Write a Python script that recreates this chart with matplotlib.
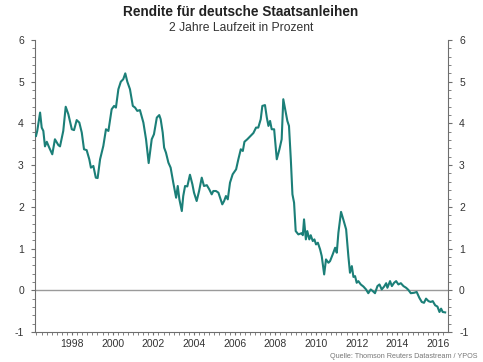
import matplotlib
matplotlib.use("Agg")
import matplotlib.pyplot as plt
from matplotlib.ticker import MultipleLocator, FixedLocator

# 2-year German government bond yield (decimal year, percent)
years = [
    1996.23, 1996.29, 1996.43, 1996.51, 1996.59, 1996.67, 1996.76, 1996.88,
    1997.03, 1997.16, 1997.33, 1997.41, 1997.57, 1997.69, 1997.82, 1997.99,
    1998.10, 1998.23, 1998.36, 1998.48, 1998.59, 1998.72, 1998.85, 1998.93,
    1999.05, 1999.17, 1999.26, 1999.38, 1999.54, 1999.67, 1999.79, 1999.95,
    2000.07, 2000.16, 2000.28, 2000.40, 2000.52, 2000.62, 2000.72, 2000.85,
    2000.99, 2001.10, 2001.21, 2001.34, 2001.51, 2001.64, 2001.77, 2001.92,
    2002.03, 2002.17, 2002.29, 2002.36, 2002.46, 2002.53, 2002.62, 2002.74,
    2002.85, 2002.98, 2003.12, 2003.20, 2003.28, 2003.40, 2003.47, 2003.56,
    2003.67, 2003.80, 2003.92, 2004.00, 2004.13, 2004.25, 2004.38, 2004.49,
    2004.63, 2004.75, 2004.87, 2004.95, 2005.08, 2005.20, 2005.28, 2005.39,
    2005.48, 2005.57, 2005.66, 2005.77, 2005.90, 2006.07, 2006.18, 2006.30,
    2006.40, 2006.48, 2006.62, 2006.76, 2006.92, 2007.05, 2007.16, 2007.28,
    2007.36, 2007.49, 2007.58, 2007.66, 2007.74, 2007.82, 2007.94, 2008.07,
    2008.20, 2008.31, 2008.39, 2008.48, 2008.59, 2008.67, 2008.76, 2008.84,
    2008.92, 2009.00, 2009.13, 2009.30, 2009.35, 2009.41, 2009.50, 2009.57,
    2009.67, 2009.74, 2009.84, 2009.92, 2010.00, 2010.09, 2010.20, 2010.28,
    2010.40, 2010.49, 2010.61, 2010.69, 2010.82, 2010.94, 2011.02, 2011.10,
    2011.23, 2011.34, 2011.48, 2011.59, 2011.67, 2011.76, 2011.84, 2011.92,
    2012.00, 2012.08, 2012.20, 2012.33, 2012.46, 2012.57, 2012.69, 2012.79,
    2012.90, 2013.02, 2013.12, 2013.23, 2013.35, 2013.45, 2013.51, 2013.64,
    2013.73, 2013.84, 2013.94, 2014.05, 2014.17, 2014.30, 2014.43, 2014.54,
    2014.66, 2014.82, 2014.95, 2015.08, 2015.20, 2015.31, 2015.41, 2015.53,
    2015.64, 2015.74, 2015.86, 2015.97, 2016.07, 2016.15, 2016.23, 2016.35,
]
yields = [
    3.70, 3.82, 4.26, 3.90, 3.82, 3.45, 3.56, 3.42,
    3.26, 3.62, 3.48, 3.45, 3.82, 4.40, 4.22, 3.86,
    3.84, 4.08, 4.02, 3.78, 3.38, 3.36, 3.14, 2.94,
    2.98, 2.70, 2.69, 3.14, 3.46, 3.86, 3.82, 4.34,
    4.42, 4.38, 4.82, 5.00, 5.06, 5.20, 5.00, 4.82,
    4.42, 4.38, 4.30, 4.32, 4.02, 3.62, 3.05, 3.62,
    3.74, 4.14, 4.20, 4.10, 3.78, 3.42, 3.30, 3.06,
    2.94, 2.58, 2.22, 2.50, 2.18, 1.90, 2.26, 2.50,
    2.49, 2.77, 2.54, 2.34, 2.14, 2.38, 2.70, 2.50,
    2.52, 2.42, 2.30, 2.38, 2.38, 2.34, 2.22, 2.06,
    2.14, 2.26, 2.18, 2.58, 2.78, 2.90, 3.14, 3.38,
    3.34, 3.56, 3.62, 3.69, 3.77, 3.90, 3.90, 4.10,
    4.42, 4.44, 4.14, 3.94, 4.06, 3.86, 3.86, 3.14,
    3.38, 3.62, 4.58, 4.34, 4.06, 3.94, 3.14, 2.30,
    2.10, 1.42, 1.34, 1.37, 1.32, 1.70, 1.22, 1.42,
    1.22, 1.32, 1.18, 1.22, 1.10, 1.14, 0.98, 0.82,
    0.38, 0.74, 0.66, 0.70, 0.86, 1.02, 0.90, 1.38,
    1.88, 1.70, 1.46, 0.82, 0.42, 0.58, 0.32, 0.34,
    0.18, 0.22, 0.14, 0.09, 0.02, -0.07, 0.02, -0.02,
    -0.07, 0.10, 0.14, 0.02, 0.09, 0.17, 0.06, 0.22,
    0.10, 0.18, 0.22, 0.14, 0.17, 0.10, 0.06, 0.01,
    -0.07, -0.06, -0.04, -0.18, -0.28, -0.30, -0.20, -0.26,
    -0.28, -0.26, -0.36, -0.39, -0.52, -0.44, -0.52, -0.53,
]
year_labels = [1998, 2000, 2002, 2004, 2006, 2008, 2010, 2012, 2014, 2016]

plt.rcParams["font.family"] = ["Liberation Sans", "DejaVu Sans"]
plt.rcParams["axes.unicode_minus"] = False

W, H = 483, 362
fig = plt.figure(figsize=(W / 100, H / 100), dpi=100)
ax = fig.add_axes([35 / W, 30 / H, 413 / W, 292 / H])

line_color = "#1b7f78"
axis_color = "#6e6e6e"
text_color = "#333333"

ax.axhline(0, color="#9a9a9a", lw=1.0, zorder=1)
ax.plot(years, yields, color=line_color, lw=1.5, solid_joinstyle="round", zorder=3)

ax.set_xlim(1996.18, 2016.49)
ax.set_ylim(-1, 6)

ax.spines["top"].set_visible(False)
for s in ("left", "right", "bottom"):
    ax.spines[s].set_color(axis_color)
    ax.spines[s].set_linewidth(0.8)

ax.yaxis.set_major_locator(MultipleLocator(1))
ax.yaxis.set_minor_locator(MultipleLocator(0.2))
ax.xaxis.set_major_locator(FixedLocator(year_labels))
ax.xaxis.set_minor_locator(MultipleLocator(0.25))
ax.set_xticklabels([str(y) for y in year_labels])

ax.tick_params(axis="y", which="both", left=True, right=True,
               labelleft=True, labelright=True, direction="out",
               color=axis_color, labelsize=7.5, labelcolor=text_color)
ax.tick_params(axis="y", which="major", length=3, pad=5)
ax.tick_params(axis="y", which="minor", length=2)
ax.tick_params(axis="x", which="both", direction="out", color=axis_color,
               labelsize=7.5, labelcolor=text_color)
ax.tick_params(axis="x", which="major", length=2.5, pad=2.5)
ax.tick_params(axis="x", which="minor", length=2)

fig.text(241 / W, 1 - 12 / H, "Rendite für deutsche Staatsanleihen",
         ha="center", va="center", fontsize=9.8, fontweight="bold", color="#222222")
fig.text(241 / W, 1 - 28 / H, "2 Jahre Laufzeit in Prozent",
         ha="center", va="center", fontsize=8.7, color="#333333")
fig.text(477 / W, 1 - 356 / H, "Quelle: Thomson Reuters Datastream / YPOS",
         ha="right", va="center", fontsize=5.2, color="#777777")

fig.savefig("out.png", dpi=100, facecolor="white")
